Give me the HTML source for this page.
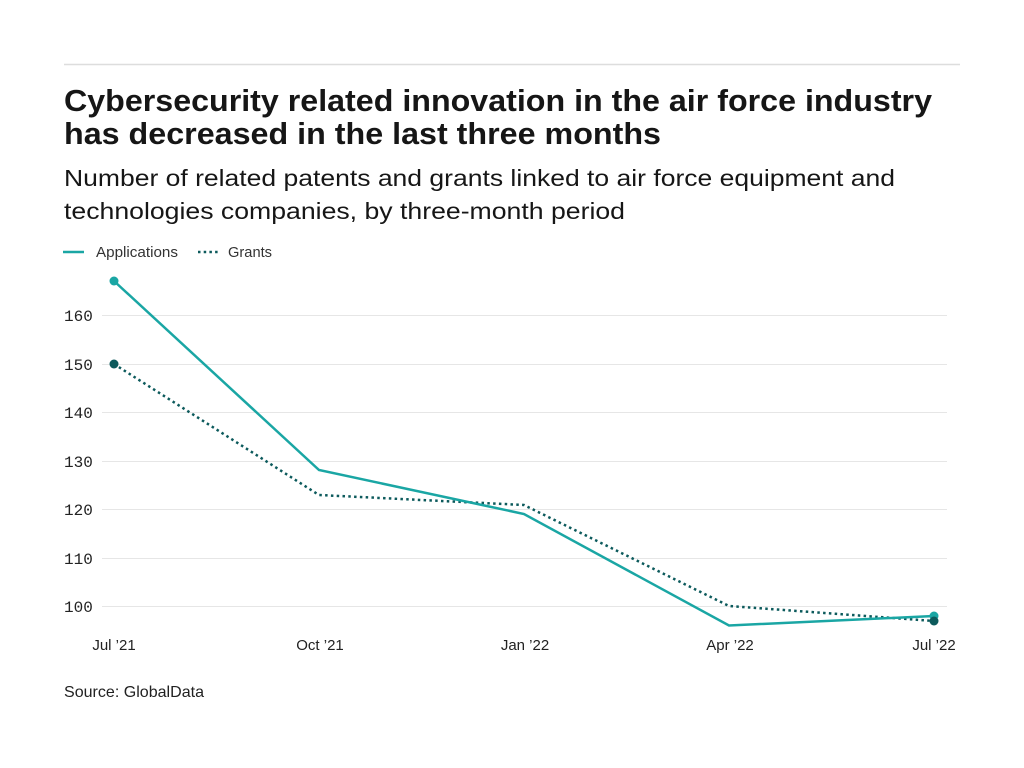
<!DOCTYPE html>
<html><head><meta charset="utf-8"><style>
html,body{margin:0;padding:0;background:#fff;width:1024px;height:768px;overflow:hidden}
svg{display:block}
</style></head><body>
<svg width="1024" height="768" viewBox="0 0 1024 768" xmlns="http://www.w3.org/2000/svg">
<rect width="1024" height="768" fill="#fff"/>
<line x1="64" y1="64.5" x2="960" y2="64.5" stroke="#dddddd" stroke-width="1.5"/>
<g font-family="'Liberation Sans', sans-serif" fill="#161616">
<text x="64" y="111" font-size="31" font-weight="bold" textLength="868" lengthAdjust="spacingAndGlyphs">Cybersecurity related innovation in the air force industry</text>
<text x="64" y="144" font-size="31" font-weight="bold" textLength="597" lengthAdjust="spacingAndGlyphs">has decreased in the last three months</text>
<text x="64" y="186" font-size="23.5" textLength="831" lengthAdjust="spacingAndGlyphs">Number of related patents and grants linked to air force equipment and</text>
<text x="64" y="219" font-size="23.5" textLength="561" lengthAdjust="spacingAndGlyphs">technologies companies, by three-month period</text>
<text x="96" y="257" font-size="15" fill="#333" textLength="82" lengthAdjust="spacingAndGlyphs">Applications</text>
<text x="228" y="257" font-size="15" fill="#333" textLength="44" lengthAdjust="spacingAndGlyphs">Grants</text>
</g>
<line x1="63" y1="252" x2="84" y2="252" stroke="#1aa6a4" stroke-width="2.5"/>
<line x1="198" y1="252" x2="219" y2="252" stroke="#0c5a5c" stroke-width="2.5" stroke-dasharray="2.5 3.2"/>
<g stroke="#e6e6e6" stroke-width="1">
<line x1="102" y1="315.5" x2="947" y2="315.5"/>
<line x1="102" y1="364.5" x2="947" y2="364.5"/>
<line x1="102" y1="412.5" x2="947" y2="412.5"/>
<line x1="102" y1="461.5" x2="947" y2="461.5"/>
<line x1="102" y1="509.5" x2="947" y2="509.5"/>
<line x1="102" y1="558.5" x2="947" y2="558.5"/>
<line x1="102" y1="606.5" x2="947" y2="606.5"/>
</g>
<g font-family="'Liberation Mono', monospace" font-size="16" fill="#222">
<text x="64" y="321">160</text>
<text x="64" y="370">150</text>
<text x="64" y="418">140</text>
<text x="64" y="467">130</text>
<text x="64" y="515">120</text>
<text x="64" y="564">110</text>
<text x="64" y="612">100</text>
</g>
<g font-family="'Liberation Sans', sans-serif" font-size="15" fill="#222" text-anchor="middle">
<text x="114" y="650">Jul ’21</text>
<text x="320" y="650">Oct ’21</text>
<text x="525" y="650">Jan ’22</text>
<text x="730" y="650">Apr ’22</text>
<text x="934" y="650">Jul ’22</text>
</g>
<text x="64" y="697" font-family="'Liberation Sans', sans-serif" font-size="16" fill="#222" textLength="140" lengthAdjust="spacingAndGlyphs">Source: GlobalData</text>
<polyline points="114,364 319,495 524,505 729,606 934,621" fill="none" stroke="#0c5a5c" stroke-width="2.5" stroke-dasharray="2.5 3.3"/>
<polyline points="114,281 319,470 524,514 729,625.5 934,616" fill="none" stroke="#1aa6a4" stroke-width="2.5"/>
<circle cx="114" cy="281" r="4.5" fill="#1aa6a4"/>
<circle cx="934" cy="616" r="4.5" fill="#1aa6a4"/>
<circle cx="114" cy="364" r="4.5" fill="#0c5a5c"/>
<circle cx="934" cy="621" r="4.5" fill="#0c5a5c"/>
</svg>
</body></html>
